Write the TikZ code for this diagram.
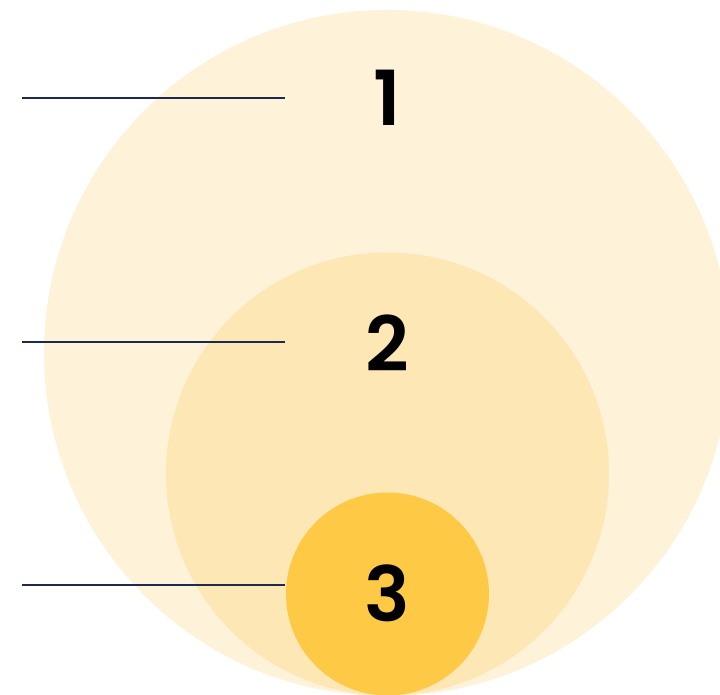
\documentclass[tikz,border=0pt]{standalone}
\usepackage{fontspec}
\setmainfont{Poppins}[BoldFont={* SemiBold}]
\usetikzlibrary{positioning}
\definecolor{outerc}{HTML}{FEF2D8}
\definecolor{midc}{HTML}{FDE7B5}
\definecolor{innerc}{HTML}{FEC945}
\definecolor{linec}{HTML}{1B2A4E}
\tikzset{
num/.style={font=\fontsize{76}{76}\selectfont\bfseries, text=black, inner sep=0pt},
guide/.style={line width=2.2pt, color=linec}
}

\begin{document}
\begin{tikzpicture}[x=1pt,y=1pt]
\useasboundingbox (0,0) rectangle (720,695);
\clip (0,0) rectangle (720,695);

\fill[outerc] (387,342) circle (343);
\fill[midc] (387.5,221) circle (221.5);
\fill[innerc] (387.5,101) circle (101.5);

\node[num] (n1) at (387,597) {1};
\node[num] (n2) at (387,352) {2};
\node[num] (n3) at (387,102) {3};

\foreach \i/\y in {1/597,2/353,3/110}
{
\coordinate (a\i) at (22,\y);
\coordinate (b\i) at (285,\y);
\draw[guide] (a\i)--(b\i);
}
\end{tikzpicture}
\end{document}
